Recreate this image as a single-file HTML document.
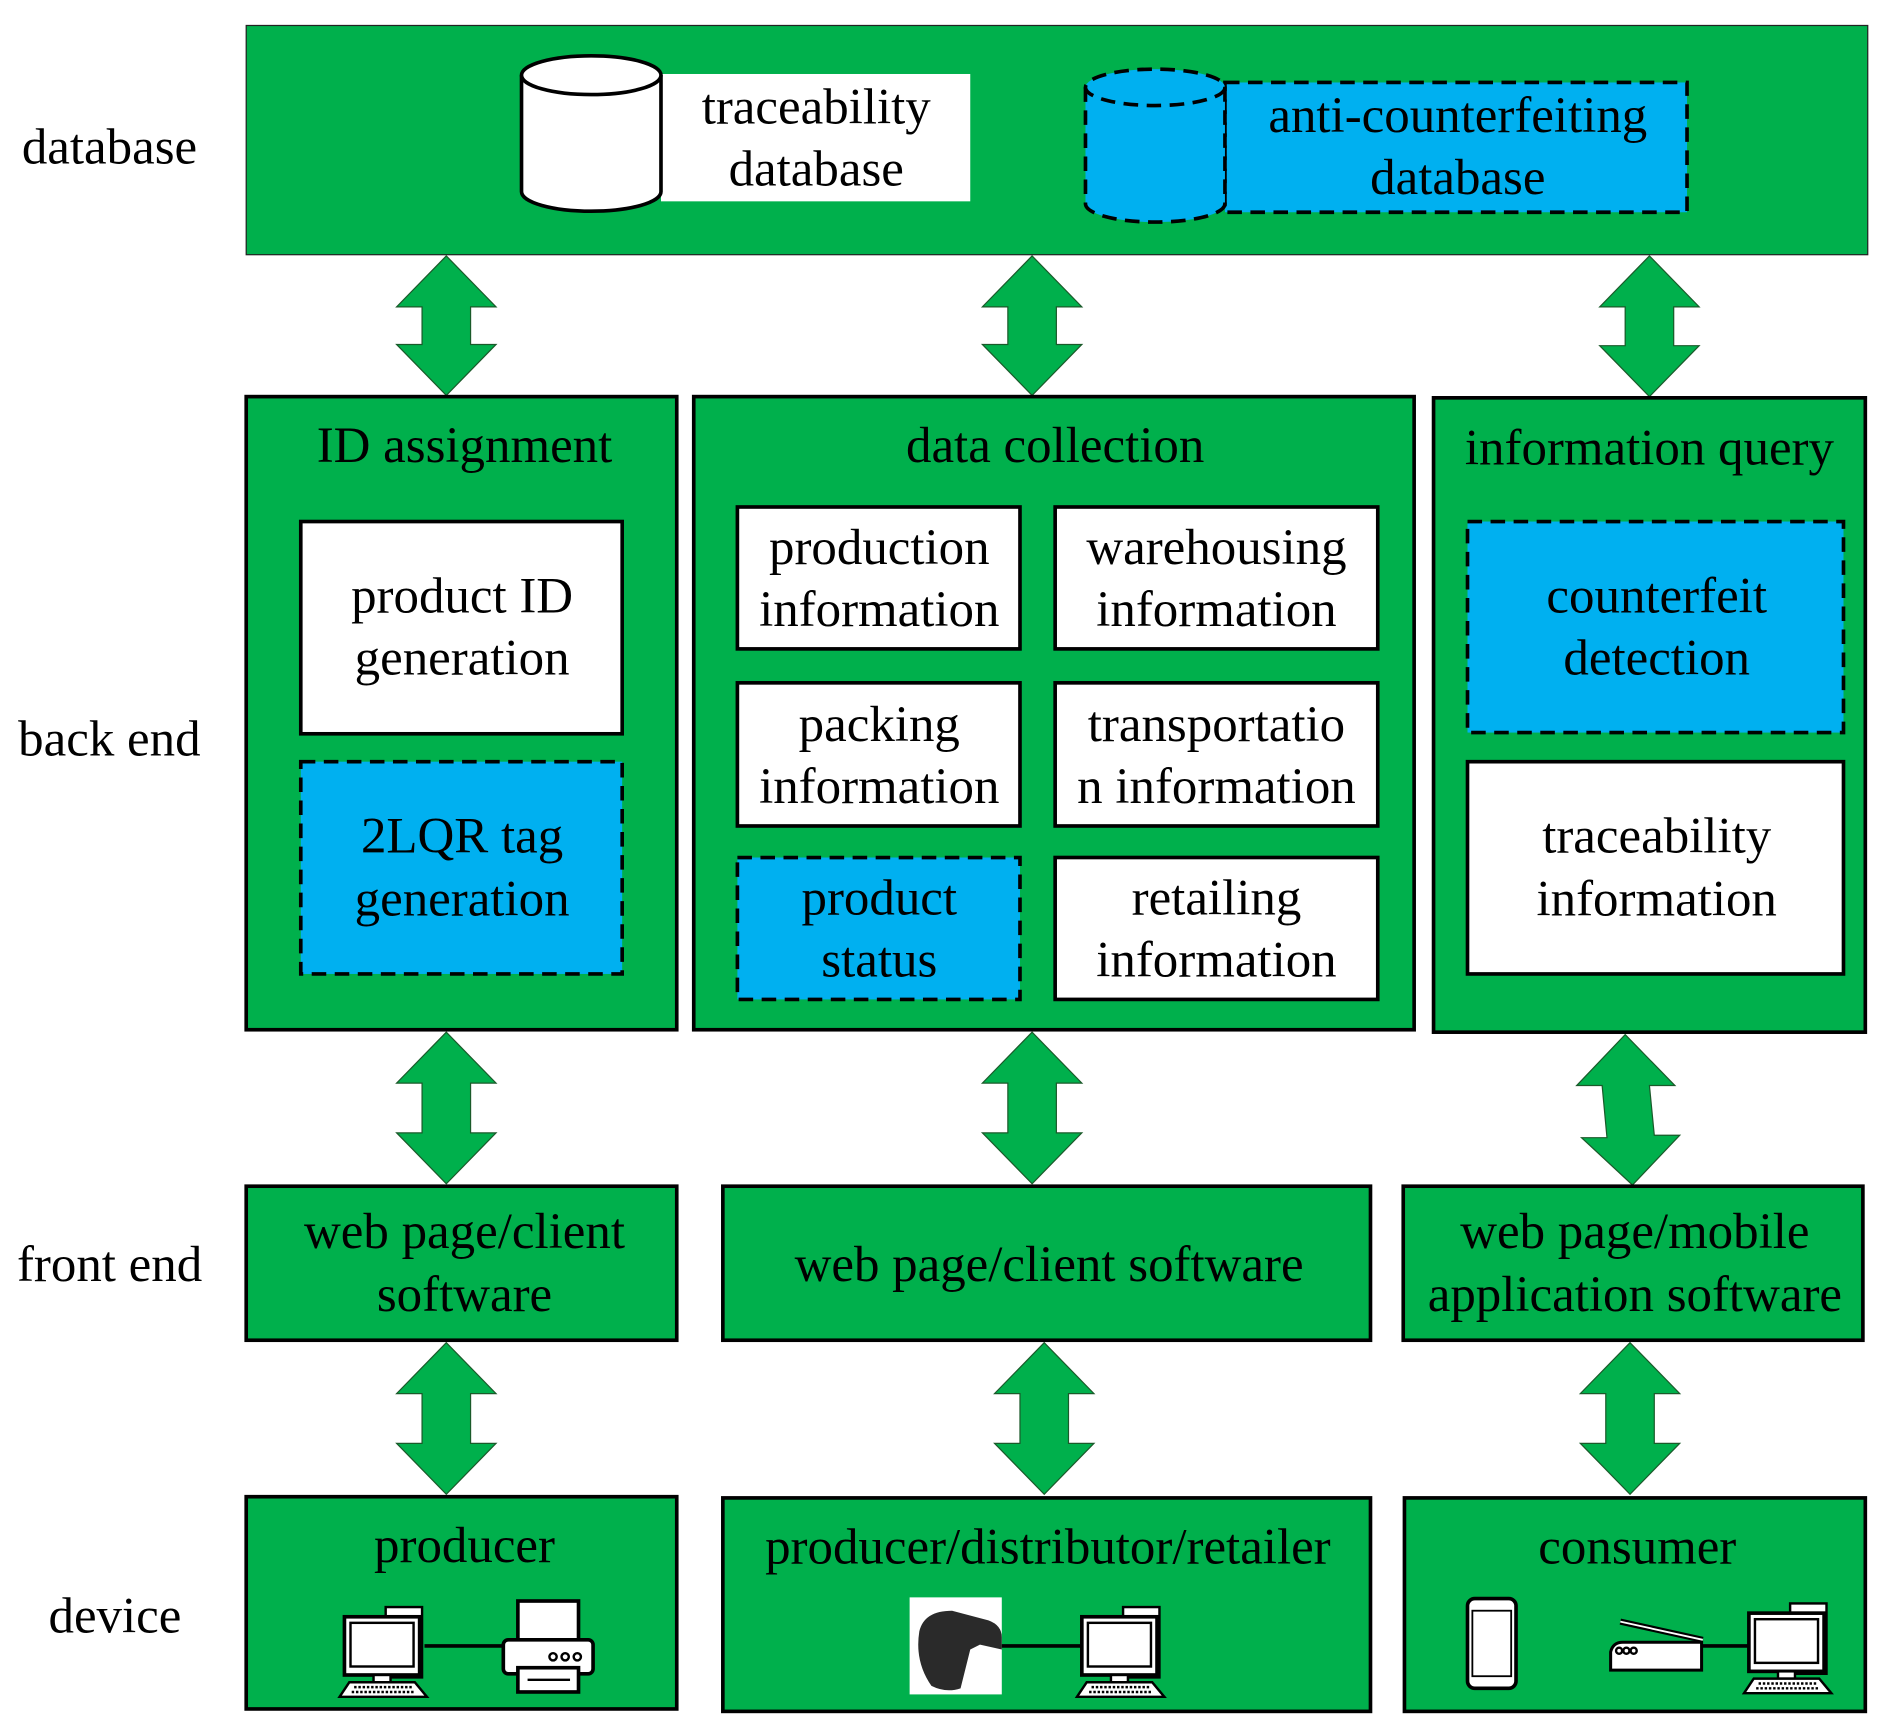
<!DOCTYPE html>
<html><head><meta charset="utf-8"><style>
html,body{margin:0;padding:0;background:#fff;}
svg{display:block;}
text{font-family:"Liberation Serif",serif;font-size:42px;fill:#000;text-anchor:middle;}
.l{text-anchor:start;}
</style></head><body>
<svg width="1892" height="1732" viewBox="0 0 1560 1428" preserveAspectRatio="none" xmlns="http://www.w3.org/2000/svg">
<defs>
<g id="pc">
  <rect x="38" y="0" width="30" height="58" fill="#fff" stroke="#000" stroke-width="2"/>
  <line x1="56" y1="8" x2="64" y2="8" stroke="#000" stroke-width="2"/>
  <line x1="56" y1="13" x2="64" y2="13" stroke="#000" stroke-width="2"/>
  <rect x="4" y="8" width="62" height="48" fill="#fff" stroke="#000" stroke-width="3"/>
  <rect x="9" y="13" width="52" height="36" fill="#fff" stroke="#000" stroke-width="2"/>
  <rect x="28" y="56" width="14" height="6" fill="#fff" stroke="#000" stroke-width="2"/>
  <polygon points="8,62 62,62 72,74 0,74" fill="#fff" stroke="#000" stroke-width="2"/>
  <line x1="12" y1="66" x2="60" y2="66" stroke="#000" stroke-width="2" stroke-dasharray="2,1.5"/>
  <line x1="10" y1="70" x2="62" y2="70" stroke="#000" stroke-width="2" stroke-dasharray="2,1.5"/>
</g>
</defs>

<text class="l" x="18" y="135">database</text>
<text class="l" x="15" y="623">back end</text>
<text class="l" x="14" y="1056">front end</text>
<text class="l" x="40" y="1346">device</text>

<rect x="203" y="21" width="1337" height="189" fill="#00b04c" stroke="#222" stroke-width="1"/>
<rect x="545" y="61" width="255" height="105" fill="#fff"/>
<path d="M430,62 L430,158 A57,16 0 0 0 545,158 L545,62" fill="#fff" stroke="#000" stroke-width="3"/>
<ellipse cx="487.5" cy="62" rx="57.5" ry="16" fill="#fff" stroke="#000" stroke-width="3"/>
<text x="673" y="102">traceability</text>
<text x="673" y="153">database</text>
<rect x="1010" y="68" width="381" height="107" fill="#00b0f0" stroke="#000" stroke-width="3" stroke-dasharray="12,7"/>
<path d="M895,72 L895,168 A57,15 0 0 0 1010,168 L1010,72" fill="#00b0f0" stroke="#000" stroke-width="3" stroke-dasharray="12,7"/>
<ellipse cx="952.5" cy="72" rx="57.5" ry="15" fill="#00b0f0" stroke="#000" stroke-width="3" stroke-dasharray="12,7"/>
<text x="1202" y="109">anti-counterfeiting</text>
<text x="1202" y="160">database</text>

<g fill="#00b04c" stroke="#1a5a2a" stroke-width="1">
<polygon points="368,211 409,253 388,253 388,284 409,284 368,326 327,284 348,284 348,253 327,253"/>
<polygon points="851,211 892,253 871,253 871,284 892,284 851,326 810,284 831,284 831,253 810,253"/>
<polygon points="1360,211 1401,253 1380,253 1380,285 1401,285 1360,327 1319,285 1340,285 1340,253 1319,253"/>
<polygon points="368,851 409,893 388,893 388,934 409,934 368,976 327,934 348,934 348,893 327,893"/>
<polygon points="851,851 892,893 871,893 871,934 892,934 851,976 810,934 831,934 831,893 810,893"/>
<polygon points="1340,853 1381,895 1360,895 1364,936 1385,936 1346,977 1304,938 1325,938 1321,895 1300,895"/>
<polygon points="368,1107 409,1149 388,1149 388,1190 409,1190 368,1232 327,1190 348,1190 348,1149 327,1149"/>
<polygon points="861,1107 902,1149 881,1149 881,1190 902,1190 861,1232 820,1190 841,1190 841,1149 820,1149"/>
<polygon points="1344,1107 1385,1149 1364,1149 1364,1190 1385,1190 1344,1232 1303,1190 1324,1190 1324,1149 1303,1149"/>
</g>

<g stroke="#000" stroke-width="3">
<rect x="203" y="327" width="355" height="522" fill="#00b04c"/>
<rect x="572" y="327" width="594" height="522" fill="#00b04c"/>
<rect x="1182" y="328" width="356" height="523" fill="#00b04c"/>
<rect x="248" y="430" width="265" height="175" fill="#fff"/>
<rect x="248" y="628" width="265" height="175" fill="#00b0f0" stroke-dasharray="12,7"/>
<rect x="608" y="418" width="233" height="117" fill="#fff"/>
<rect x="870" y="418" width="266" height="117" fill="#fff"/>
<rect x="608" y="563" width="233" height="118" fill="#fff"/>
<rect x="870" y="563" width="266" height="118" fill="#fff"/>
<rect x="608" y="707" width="233" height="117" fill="#00b0f0" stroke-dasharray="12,7"/>
<rect x="870" y="707" width="266" height="117" fill="#fff"/>
<rect x="1210" y="430" width="310" height="174" fill="#00b0f0" stroke-dasharray="12,7"/>
<rect x="1210" y="628" width="310" height="175" fill="#fff"/>
</g>
<text x="383" y="381">ID assignment</text>
<text x="870" y="381">data collection</text>
<text x="1360" y="383">information query</text>
<text x="381" y="505">product ID</text><text x="381" y="556">generation</text>
<text x="381" y="703">2LQR tag</text><text x="381" y="755">generation</text>
<text x="725" y="465">production</text><text x="725" y="516">information</text>
<text x="1003" y="465">warehousing</text><text x="1003" y="516">information</text>
<text x="725" y="611">packing</text><text x="725" y="662">information</text>
<text x="1003" y="611">transportatio</text><text x="1003" y="662">n information</text>
<text x="725" y="754">product</text><text x="725" y="805">status</text>
<text x="1003" y="754">retailing</text><text x="1003" y="805">information</text>
<text x="1366" y="505">counterfeit</text><text x="1366" y="556">detection</text>
<text x="1366" y="703">traceability</text><text x="1366" y="755">information</text>

<g stroke="#000" stroke-width="3" fill="#00b04c">
<rect x="203" y="978" width="355" height="127"/>
<rect x="596" y="978" width="534" height="127"/>
<rect x="1157" y="978" width="379" height="127"/>
</g>
<text x="383" y="1029">web page/client</text><text x="383" y="1081">software</text>
<text x="865" y="1056">web page/client software</text>
<text x="1348" y="1029">web page/mobile</text><text x="1348" y="1081">application software</text>

<g stroke="#000" stroke-width="3" fill="#00b04c">
<rect x="203" y="1234" width="355" height="175"/>
<rect x="596" y="1235" width="534" height="176"/>
<rect x="1158" y="1235" width="380" height="176"/>
</g>
<text x="383" y="1288">producer</text>
<text x="864" y="1289">producer/distributor/retailer</text>
<text x="1350" y="1289">consumer</text>

<line x1="350" y1="1357" x2="420" y2="1357" stroke="#000" stroke-width="3"/>
<use href="#pc" x="280" y="1325"/>
<g stroke="#000" stroke-width="3" fill="#fff">
<rect x="427" y="1320" width="50" height="34"/>
<rect x="415" y="1352" width="74" height="28" rx="4"/>
<rect x="427" y="1375" width="50" height="20"/>
</g>
<circle cx="456" cy="1366" r="3" fill="none" stroke="#000" stroke-width="2"/>
<circle cx="466" cy="1366" r="3" fill="none" stroke="#000" stroke-width="2"/>
<circle cx="476" cy="1366" r="3" fill="none" stroke="#000" stroke-width="2"/>
<line x1="435" y1="1385" x2="470" y2="1385" stroke="#000" stroke-width="2"/>

<rect x="750" y="1317" width="76" height="80" fill="#fff"/>
<path d="M758,1345 Q762,1328 785,1328 L815,1336 Q826,1340 826,1350 L826,1360 L808,1356 L800,1360 L792,1392 Q780,1396 768,1390 Q754,1370 758,1345 Z" fill="#2a2a2a"/>
<line x1="826" y1="1357" x2="892" y2="1357" stroke="#000" stroke-width="3"/>
<use href="#pc" x="888" y="1325"/>

<rect x="1210" y="1318" width="40" height="74" rx="6" fill="#fff" stroke="#000" stroke-width="3"/>
<rect x="1214" y="1328" width="32" height="54" fill="#fff" stroke="#000" stroke-width="1.5"/>
<path d="M1328,1377 L1328,1362 Q1330,1354 1338,1354 L1403,1354 L1403,1377 Z" fill="#fff" stroke="#000" stroke-width="2.5"/>
<line x1="1336" y1="1337" x2="1404" y2="1352" stroke="#000" stroke-width="5"/>
<line x1="1336" y1="1337" x2="1404" y2="1352" stroke="#fff" stroke-width="1.5"/>
<circle cx="1335" cy="1361" r="2.5" fill="none" stroke="#000" stroke-width="2"/>
<circle cx="1341" cy="1361" r="2.5" fill="none" stroke="#000" stroke-width="2"/>
<circle cx="1347" cy="1361" r="2.5" fill="none" stroke="#000" stroke-width="2"/>
<line x1="1403" y1="1357" x2="1444" y2="1357" stroke="#000" stroke-width="3"/>
<use href="#pc" x="1438" y="1322"/>
</svg>
</body></html>
